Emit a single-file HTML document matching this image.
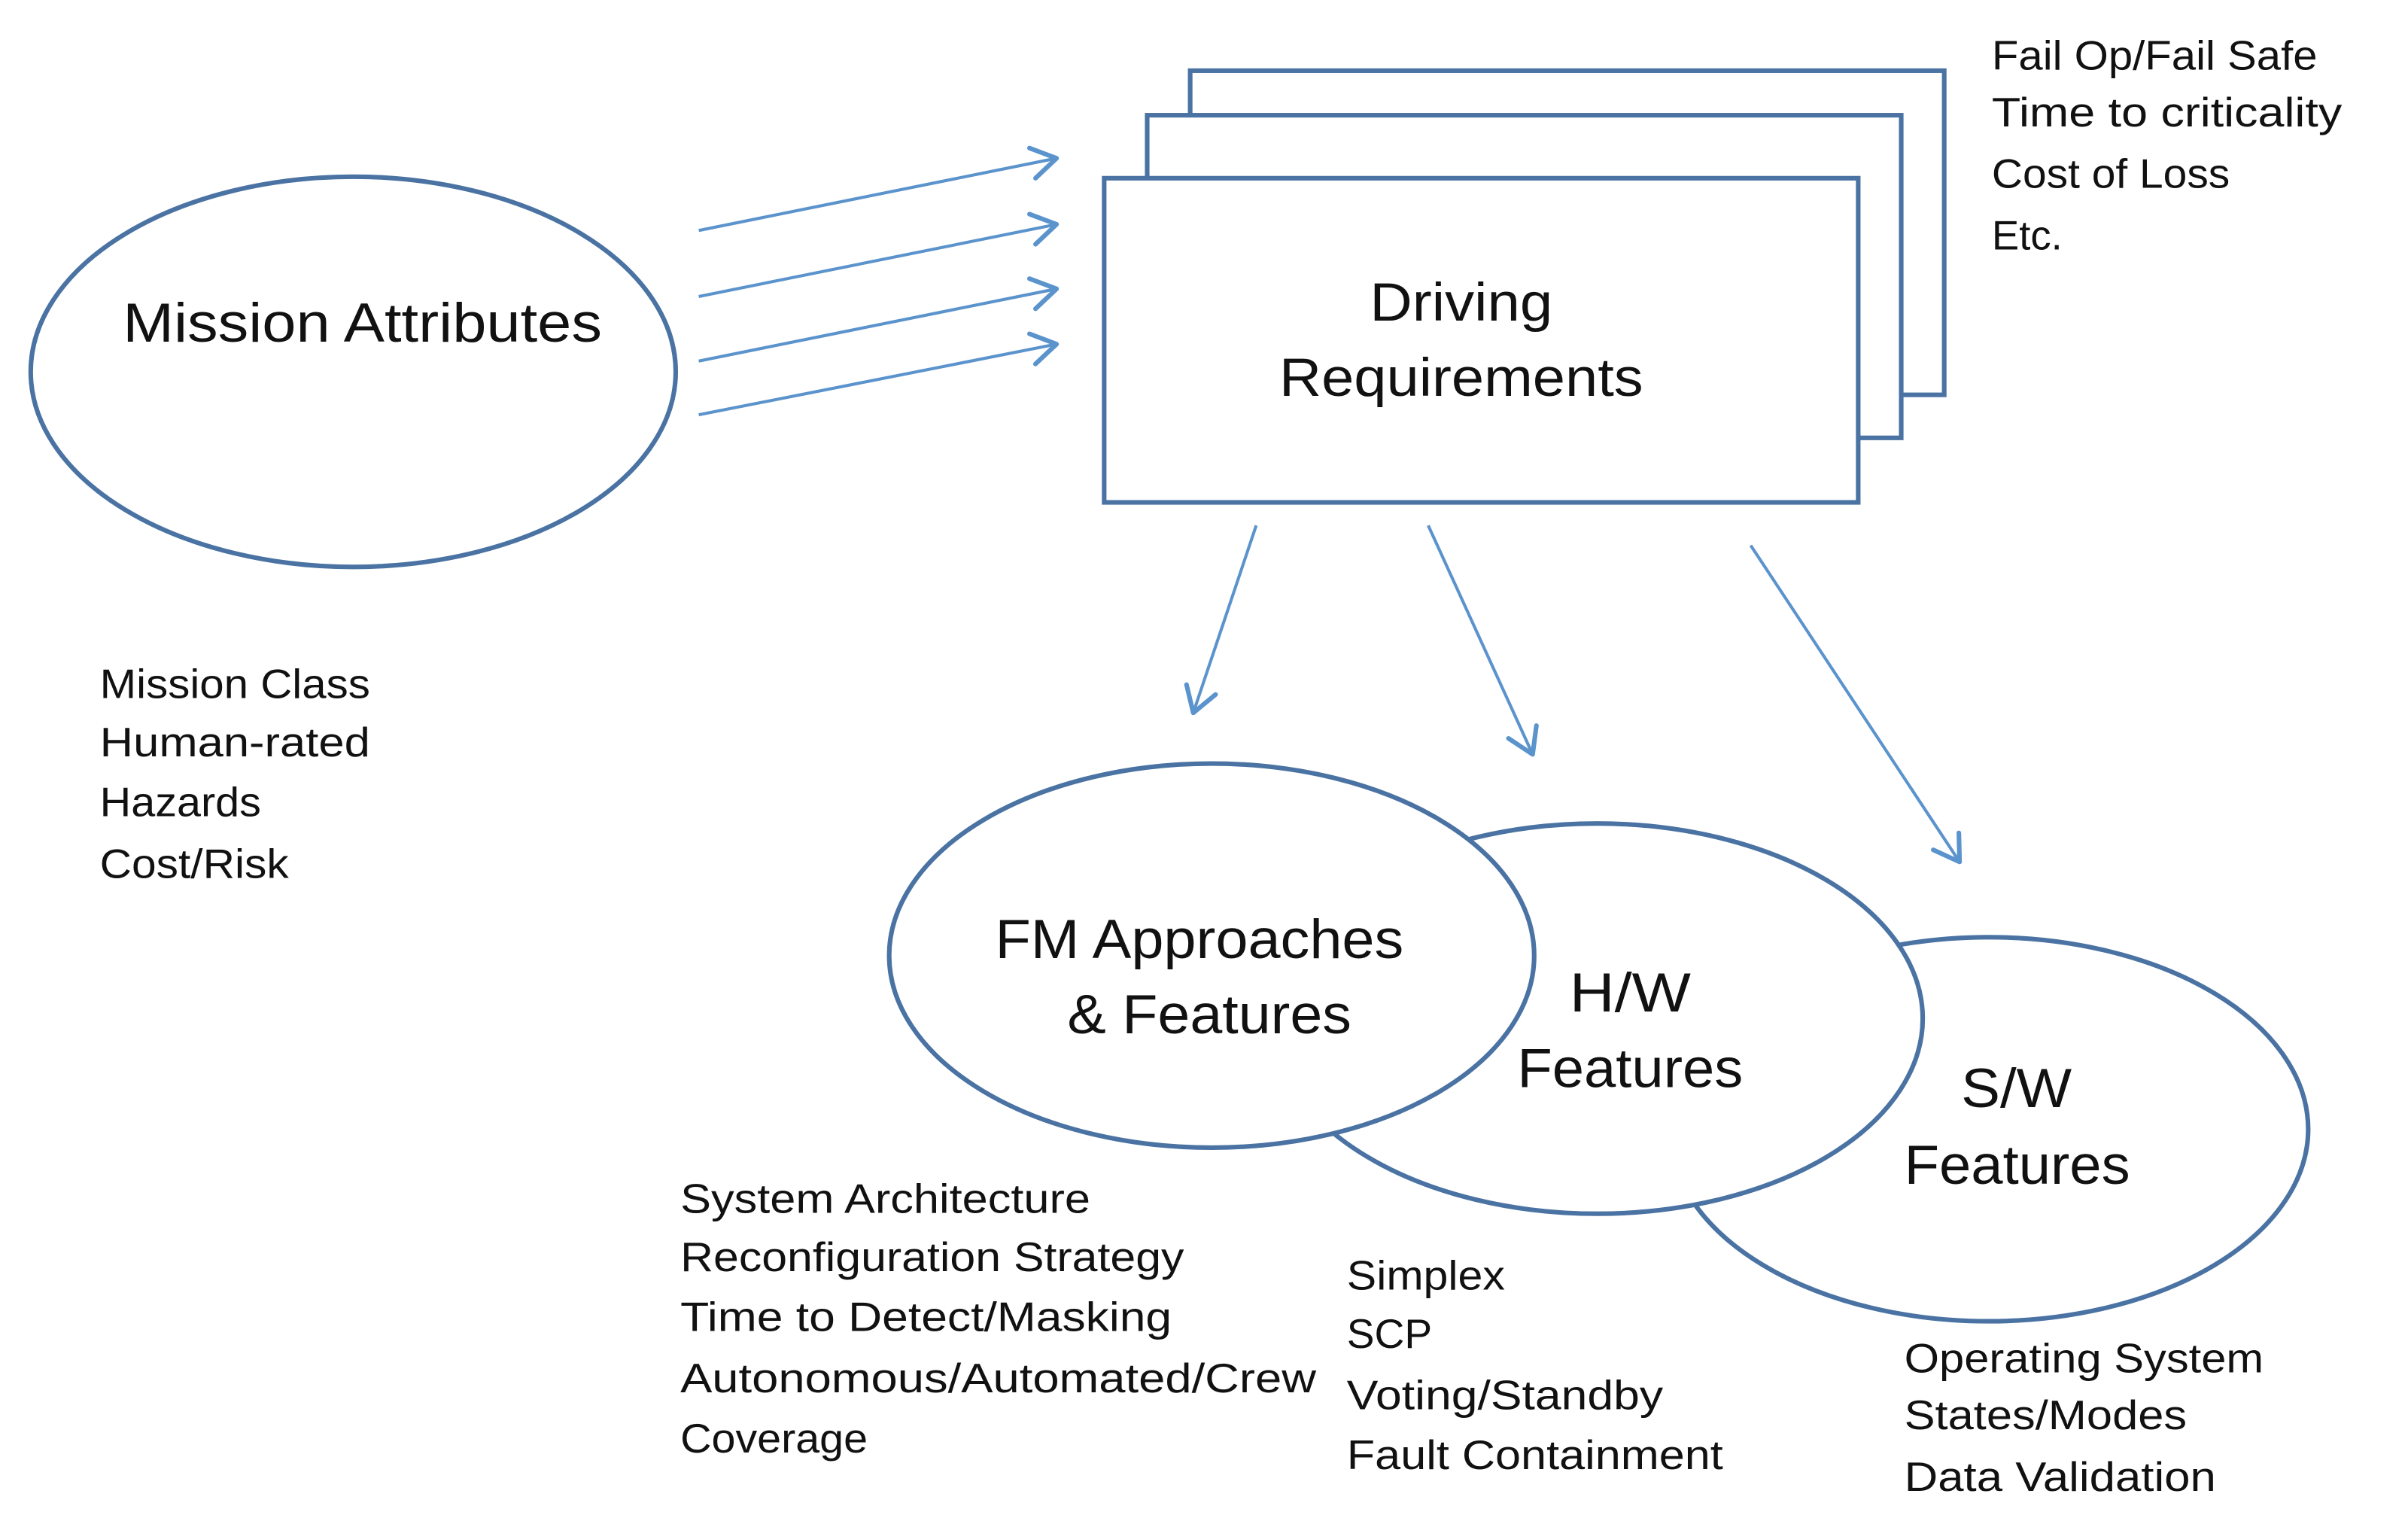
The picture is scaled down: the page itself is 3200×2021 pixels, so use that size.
<!DOCTYPE html>
<html><head><meta charset="utf-8"><style>
html,body{margin:0;padding:0;background:#fff}
svg{display:block}
text{font-family:"Liberation Sans","DejaVu Sans",sans-serif;fill:#111}
</style></head><body>
<svg width="3200" height="2021" viewBox="0 0 1568 990" preserveAspectRatio="none" xmlns="http://www.w3.org/2000/svg">
<defs>
<marker id="ah2" markerWidth="24" markerHeight="24" refX="20" refY="12" orient="auto" markerUnits="userSpaceOnUse">
<path d="M4,2 L20,12 L4,22" fill="none" stroke="#5b93cc" stroke-width="3" stroke-linecap="round" stroke-linejoin="round"/>
</marker>
</defs>
<g fill="#fff" stroke="#4a73a3" stroke-width="3">
<ellipse cx="230" cy="242" rx="210" ry="127"/>
<rect x="775" y="46" width="491" height="211"/>
<rect x="747" y="75" width="491" height="210"/>
<rect x="719" y="116" width="491" height="211"/>
<ellipse cx="1295" cy="735" rx="208" ry="125"/>
<ellipse cx="1040" cy="663" rx="212" ry="127"/>
<ellipse cx="789" cy="622" rx="210" ry="125"/>
</g>
<g stroke="#5b93cc" stroke-width="2" fill="none" marker-end="url(#ah2)">
<line x1="455" y1="150" x2="688" y2="103"/>
<line x1="455" y1="193" x2="688" y2="146"/>
<line x1="455" y1="235" x2="688" y2="188"/>
<line x1="455" y1="270" x2="688" y2="224"/>
<line x1="818" y1="342" x2="777" y2="464"/>
<line x1="930" y1="342" x2="998" y2="491"/>
<line x1="1140" y1="355" x2="1276" y2="561"/>
</g>
<g font-size="36" dominant-baseline="central">
<text x="80" y="210" textLength="312" lengthAdjust="spacingAndGlyphs">Mission Attributes</text>
<text x="892" y="197" font-size="35" textLength="119" lengthAdjust="spacingAndGlyphs">Driving</text>
<text x="833" y="246" font-size="35" textLength="237" lengthAdjust="spacingAndGlyphs">Requirements</text>
<text x="648" y="611" textLength="266" lengthAdjust="spacingAndGlyphs">FM Approaches</text>
<text x="695" y="660" textLength="185" lengthAdjust="spacingAndGlyphs">&amp; Features</text>
<text x="1022" y="646" textLength="79" lengthAdjust="spacingAndGlyphs">H/W</text>
<text x="988" y="695" textLength="147" lengthAdjust="spacingAndGlyphs">Features</text>
<text x="1277" y="708" textLength="72" lengthAdjust="spacingAndGlyphs">S/W</text>
<text x="1240" y="758" textLength="147" lengthAdjust="spacingAndGlyphs">Features</text>
</g>
<g font-size="27" dominant-baseline="central">
<text x="1297" y="36" textLength="212" lengthAdjust="spacingAndGlyphs">Fail Op/Fail Safe</text>
<text x="1297" y="73" textLength="228" lengthAdjust="spacingAndGlyphs">Time to criticality</text>
<text x="1297" y="113" textLength="155" lengthAdjust="spacingAndGlyphs">Cost of Loss</text>
<text x="1297" y="153" textLength="46" lengthAdjust="spacingAndGlyphs">Etc.</text>
<text x="65" y="445" textLength="176" lengthAdjust="spacingAndGlyphs">Mission Class</text>
<text x="65" y="483" textLength="176" lengthAdjust="spacingAndGlyphs">Human-rated</text>
<text x="65" y="522" textLength="105" lengthAdjust="spacingAndGlyphs">Hazards</text>
<text x="65" y="562" textLength="123" lengthAdjust="spacingAndGlyphs">Cost/Risk</text>
<text x="443" y="780" textLength="267" lengthAdjust="spacingAndGlyphs">System Architecture</text>
<text x="443" y="818" textLength="328" lengthAdjust="spacingAndGlyphs">Reconfiguration Strategy</text>
<text x="443" y="857" textLength="320" lengthAdjust="spacingAndGlyphs">Time to Detect/Masking</text>
<text x="443" y="897" textLength="414" lengthAdjust="spacingAndGlyphs">Autonomous/Automated/Crew</text>
<text x="443" y="936" textLength="122" lengthAdjust="spacingAndGlyphs">Coverage</text>
<text x="877" y="830" textLength="103" lengthAdjust="spacingAndGlyphs">Simplex</text>
<text x="877" y="868">SCP</text>
<text x="877" y="908" textLength="206" lengthAdjust="spacingAndGlyphs">Voting/Standby</text>
<text x="877" y="947" textLength="245" lengthAdjust="spacingAndGlyphs">Fault Containment</text>
<text x="1240" y="884" textLength="234" lengthAdjust="spacingAndGlyphs">Operating System</text>
<text x="1240" y="921" textLength="184" lengthAdjust="spacingAndGlyphs">States/Modes</text>
<text x="1240" y="961" textLength="203" lengthAdjust="spacingAndGlyphs">Data Validation</text>
</g>
</svg>
</body></html>
